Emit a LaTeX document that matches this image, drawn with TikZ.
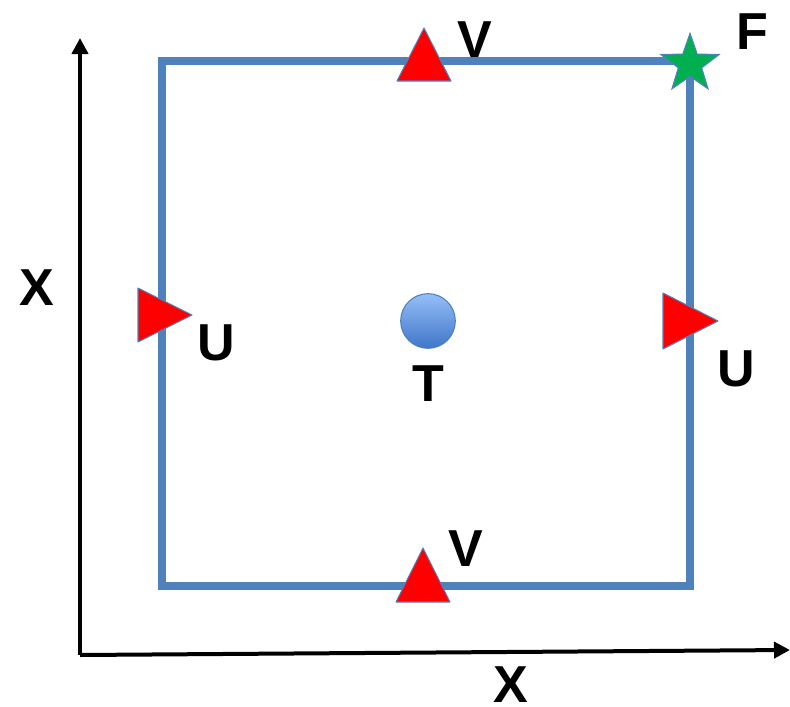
\documentclass[tikz,border=0pt]{standalone}
\usepackage{fontspec}
\setmainfont{Liberation Sans}
\usetikzlibrary{arrows.meta,shapes.geometric}

\definecolor{edgeblue}{HTML}{4F81BD}
\definecolor{markred}{HTML}{FF0000}
\definecolor{stargreen}{HTML}{00B050}
\definecolor{balltop}{RGB}{150,190,248}
\definecolor{ballbot}{RGB}{62,118,200}

\begin{document}
\begin{tikzpicture}[x=0.75pt, y=-0.75pt,
    lbl/.style={font=\fontsize{39}{39}\selectfont\bfseries, inner sep=0pt},
    marker/.style={fill=markred, draw=edgeblue, line width=0.8pt, line join=round},
    axis/.style={line width=3pt, -{Triangle[length=12pt, width=12pt]}}]

        \useasboundingbox (0,0) rectangle (790,707);

        % Axes
        \coordinate (o) at (80,655);
        \coordinate (xend) at (790,650);
        \coordinate (yend) at (80,38);
        \draw[axis] (o) -- (xend);
        \draw[axis] (o) -- (yend);
        \node[lbl] (xlab) at (511,685) {X};
        \node[lbl] (ylab) at (37,288) {X};

        % Cell
        \draw[edgeblue, line width=6pt] (162,61) rectangle (690,586);

        % V points (top, bottom)
        \draw[marker] (424,28) -- (451,81) -- (397,81) -- cycle;
        \draw[marker] (423,548) -- (450,602) -- (396,602) -- cycle;
        \node[lbl] (vtop) at (475,40) {V};
        \node[lbl] (vbot) at (466,549) {V};

        % U points (left, right)
        \draw[marker] (192,315) -- (138,288) -- (138,342) -- cycle;
        \draw[marker] (718,321) -- (663,293) -- (663,349) -- cycle;
        \node[lbl] (uleft) at (216,343) {U};
        \node[lbl] (uright) at (736,369) {U};

        % T point
        \node[circle, minimum size=41pt, inner sep=0pt, draw=edgeblue, line width=0.8pt,
              top color=balltop, bottom color=ballbot] (t) at (428,321) {};
        \node[lbl] (tlab) at (428,384) {T};

        % F point
        \node[star, star points=5, star point ratio=2.5, minimum size=46pt, inner sep=0pt,
              fill=stargreen, draw=edgeblue, line width=0.8pt] (f) at (690,64) {};
        \node[lbl] (flab) at (752,32) {F};

    \end{tikzpicture}
\end{document}
